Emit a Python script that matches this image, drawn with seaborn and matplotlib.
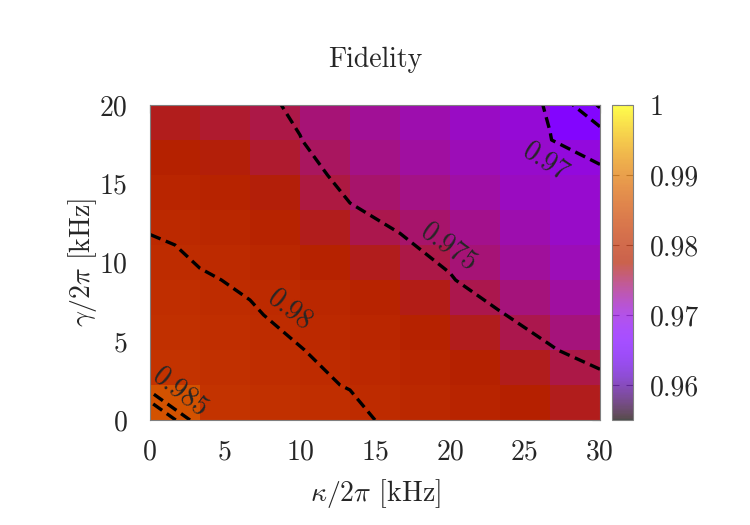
import numpy as np
import matplotlib
matplotlib.use('Agg')
import matplotlib.pyplot as plt
import seaborn as sns

#grid axes
kappa_khz = [0, 3.33, 6.67, 10, 13.33, 16.67, 20, 23.33, 26.67, 30]
gamma_khz = [0, 2.22, 4.44, 6.67, 8.89, 11.11, 13.33, 15.56, 17.78, 20]

#fidelity, one row per gamma value, columns follow kappa
fid_g0 = [0.9990, 0.9815, 0.9814, 0.9810, 0.9803, 0.9797, 0.9790, 0.9782, 0.9774, 0.9766]
fid_g1 = [0.9818, 0.9812, 0.9807, 0.9802, 0.97995, 0.9793, 0.9786, 0.9778, 0.9770, 0.9759]
fid_g2 = [0.9813, 0.9808, 0.9803, 0.98005, 0.9795, 0.9788, 0.9779, 0.9770, 0.9752, 0.9739]
fid_g3 = [0.9808, 0.9804, 0.98015, 0.9796, 0.9789, 0.9781, 0.9771, 0.97515, 0.9739, 0.9725]
fid_g4 = [0.9803, 0.98015, 0.9798, 0.9790, 0.9782, 0.9771, 0.97515, 0.9738, 0.9727, 0.9716]
fid_g5 = [0.9803, 0.9797, 0.9789, 0.9781, 0.9765, 0.97525, 0.9744, 0.9731, 0.9719, 0.9708]
fid_g6 = [0.9793, 0.9789, 0.9783, 0.9774, 0.97515, 0.9745, 0.9735, 0.9722, 0.9711, 0.9702]
fid_g7 = [0.9784, 0.9780, 0.9773, 0.97573, 0.9744, 0.9734, 0.9725, 0.9716, 0.9711, 0.97065]
fid_g8 = [0.9774, 0.9770, 0.9765, 0.97505, 0.9738, 0.9728, 0.9719, 0.9710, 0.97005, 0.9685]
fid_g9 = [0.9765, 0.9760, 0.9755, 0.9747, 0.9730, 0.9722, 0.9714, 0.9709, 0.96985, 0.9593]

contour_levels = [0.96, 0.965, 0.97, 0.975, 0.98, 0.985, 0.99]
x_ticks = [0, 5, 10, 15, 20, 25, 30]
y_ticks = [0, 5, 10, 15, 20]
cb_ticks = [0.96, 0.97, 0.98, 0.99, 1.0]
cb_labels = ['0.96', '0.97', '0.98', '0.99', '1']

#style
sns.set_style('white')
plt.rcParams['font.family'] = 'serif'
plt.rcParams['font.serif'] = ['cmr10', 'DejaVu Serif']
plt.rcParams['mathtext.fontset'] = 'cm'
plt.rcParams['font.size'] = 20
plt.rcParams['lines.dashed_pattern'] = [3.3, 1.7]

Z = np.array([fid_g0, fid_g1, fid_g2, fid_g3, fid_g4,
              fid_g5, fid_g6, fid_g7, fid_g8, fid_g9])
#pm3d style cells: mean of the four corners
cells = 0.25 * (Z[:-1, :-1] + Z[1:, :-1] + Z[:-1, 1:] + Z[1:, 1:])
idx = np.arange(len(kappa_khz))

fig = plt.figure(figsize=(7.5, 5.25), dpi=100)
ax = fig.add_axes([0.2, 0.2, 0.6, 0.6])
cax = fig.add_axes([0.816, 0.2, 0.028, 0.6])

sns.heatmap(cells, ax=ax, cmap='gnuplot', vmin=0.955, vmax=1.0,
            cbar_ax=cax, linewidths=0, xticklabels=False, yticklabels=False)
ax.set_xlim(0, 9)
ax.set_ylim(0, 9)

#contours
cs = ax.contour(idx, idx, Z, levels=contour_levels, colors='black',
                linewidths=2.4, linestyles='dashed')
ax.text(0.6, 0.8, '0.985', rotation=-38, ha='center', va='center', fontsize=20)
ax.text(2.8, 3.14, '0.98', rotation=-38, ha='center', va='center', fontsize=20)
ax.text(5.98, 4.94, '0.975', rotation=-36, ha='center', va='center', fontsize=20)
ax.text(7.92, 7.37, '0.97', rotation=-33, ha='center', va='center', fontsize=20)

#axes
ax.set_xticks(np.interp(x_ticks, kappa_khz, idx))
ax.set_xticklabels([str(t) for t in x_ticks])
ax.set_yticks(np.interp(y_ticks, gamma_khz, idx))
ax.set_yticklabels([str(t) for t in y_ticks], rotation=0)
ax.tick_params(axis='both', direction='in', top=True, right=True, length=6,
               width=0.8, color='#404040', labelsize=20)
ax.tick_params(axis='x', pad=14)
ax.tick_params(axis='y', pad=16)
for s in ax.spines.values():
    s.set_visible(True)
    s.set_color('#808080')
    s.set_linewidth(0.8)

ax.set_xlabel(r'$\kappa/2\pi$ [kHz]', fontsize=20)
ax.xaxis.label.set_verticalalignment('center')
ax.xaxis.set_label_coords(0.5, -0.232)
ax.set_ylabel(r'$\gamma/2\pi$ [kHz]', fontsize=20)
ax.yaxis.label.set_verticalalignment('center')
ax.yaxis.set_label_coords(-0.149, 0.5)

fig.text(0.5, 0.886, 'Fidelity', ha='center', va='center', fontsize=20)

#colorbar
cb = ax.collections[0].colorbar
cb.solids.set_alpha(0.7)
cb.set_ticks(cb_ticks)
cb.set_ticklabels(cb_labels)
cb.outline.set_edgecolor('#808080')
cb.outline.set_linewidth(0.8)
cax.tick_params(direction='in', left=True, right=True, length=5, width=0.8,
                color='#808080', labelsize=20, pad=12)

fig.savefig('out.png', dpi=100)
